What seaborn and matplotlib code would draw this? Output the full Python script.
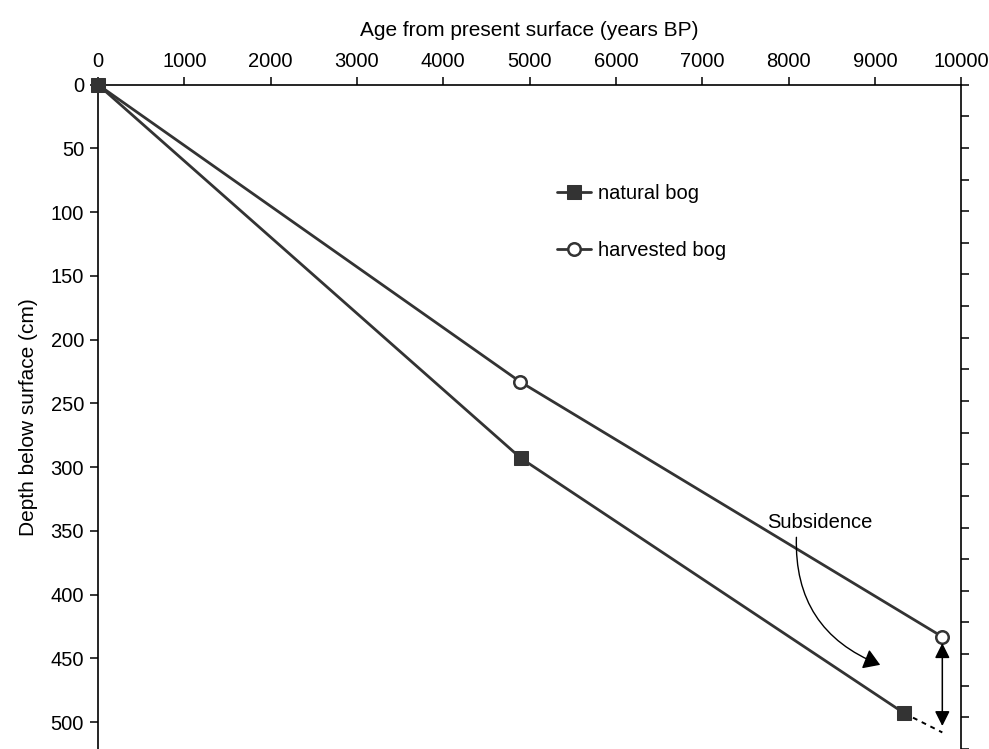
import numpy as np
import pandas as pd
import matplotlib
matplotlib.use("Agg")
import matplotlib.pyplot as plt
import seaborn as sns

# values
age_natural = [0, 4900, 9340]
depth_natural = [0, 293, 493]
age_harvested = [0, 4890, 9780]
depth_harvested = [0, 233, 433]
series_labels = ["natural bog", "harvested bog"]
x_ticks = list(range(0, 10001, 1000))
y_ticks = list(range(0, 501, 50))
y_ticks_right = list(range(0, 526, 25))

sns.set_style("white")
plt.rcParams["font.family"] = ["Liberation Sans", "DejaVu Sans"]
plt.rcParams["text.color"] = "black"
plt.rcParams["axes.labelcolor"] = "black"

line_col = "#333333"

fig = plt.figure(figsize=(9.89, 7.49), dpi=100)
ax = fig.add_axes([0.099, 0.0, 0.873, 0.887])

df_nat = pd.DataFrame({"age": age_natural, "depth": depth_natural})
df_har = pd.DataFrame({"age": age_harvested, "depth": depth_harvested})

sns.lineplot(data=df_nat, x="age", y="depth", sort=False, ax=ax, color=line_col,
             lw=2.0, marker="s", markersize=10, markeredgecolor=line_col,
             markerfacecolor=line_col, label=series_labels[0], clip_on=False,
             zorder=4)
sns.lineplot(data=df_har, x="age", y="depth", sort=False, ax=ax, color=line_col,
             lw=2.0, marker="o", markersize=9, markeredgewidth=1.8,
             markeredgecolor=line_col, markerfacecolor="white",
             label=series_labels[1], clip_on=False, zorder=3)

ax.set_xlim(0, 10000)
ax.set_ylim(521, 0)

ax.xaxis.tick_top()
ax.xaxis.set_label_position("top")
ax.set_xticks(x_ticks)
ax.set_yticks(y_ticks)
ax.tick_params(axis="both", direction="out", length=6, width=1.1, labelsize=14.5,
               colors="black", pad=4)
ax.tick_params(axis="x", top=True, bottom=False)
ax.tick_params(axis="y", left=True, right=False)
ax.set_xlabel("Age from present surface (years BP)", fontsize=15, labelpad=11)
ax.set_ylabel("Depth below surface (cm)", fontsize=15, labelpad=9)

for side in ["top", "left", "right"]:
    ax.spines[side].set_color("black")
    ax.spines[side].set_linewidth(1.2)
ax.spines["bottom"].set_visible(False)

# right hand ticks every 25 cm
ax2 = ax.twinx()
ax2.set_ylim(521, 0)
ax2.set_yticks(y_ticks_right)
ax2.set_yticklabels([])
ax2.tick_params(axis="y", direction="out", length=6, width=1.1, right=True,
                colors="black")
for s in ax2.spines.values():
    s.set_visible(False)

# subsidence: dashed extension and double arrow
ax.plot([age_natural[-1], age_harvested[-1]], [depth_natural[-1], 508],
        ls=(0, (2.5, 2.5)), color="black", lw=1.4)
ax.annotate("", xy=(age_harvested[-1], 503), xytext=(age_harvested[-1], 438),
            arrowprops=dict(arrowstyle="<|-|>,head_length=0.5,head_width=0.25",
                            color="black", lw=1.1,
                            mutation_scale=18, shrinkA=0, shrinkB=0))
ax.text(8360, 343, "Subsidence", fontsize=14.5, ha="center", va="center")
ax.annotate("", xy=(9060, 455), xytext=(8090, 355),
            arrowprops=dict(arrowstyle="-|>,head_length=0.55,head_width=0.35",
                            color="black", lw=1.0,
                            mutation_scale=18, shrinkA=0, shrinkB=0,
                            connectionstyle="arc3,rad=0.35"))

ax.legend(loc="center left", bbox_to_anchor=(0.532, 0.793), frameon=False,
          fontsize=14.5, handlelength=1.7, handletextpad=0.3, labelspacing=1.9,
          borderpad=0, borderaxespad=0)

fig.savefig("out.png", dpi=100)
